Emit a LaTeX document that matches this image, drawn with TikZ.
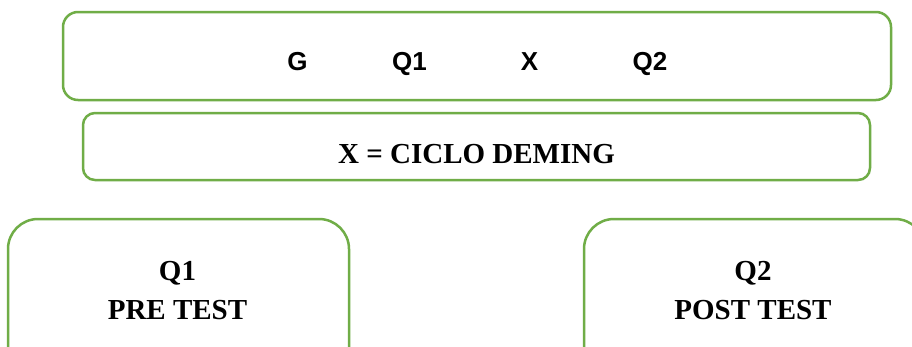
\documentclass[tikz,border=0pt]{standalone}
\usepackage{fontspec}
\setmainfont{Liberation Serif}
\newfontfamily\arialfont{Liberation Sans}
\definecolor{boxgreen}{RGB}{112,173,71}
\tikzset{
  gbox/.style={draw=boxgreen, line width=2.5pt, fill=white},
  toplabel/.style={anchor=base, inner sep=0pt, font=\arialfont\bfseries\fontsize{26}{30}\selectfont},
  serlabel/.style={anchor=base, inner sep=0pt, font=\bfseries\fontsize{29}{35}\selectfont},
}
\begin{document}
\begin{tikzpicture}[x=1pt,y=-1pt]
\useasboundingbox (0,0) rectangle (912,346);
\clip (0,0) rectangle (912,346);
\fill[white] (0,0) rectangle (912,346);
% top box
\draw[gbox, rounded corners=15pt] (63,12) rectangle (891,100);
\node[toplabel] (g) at (297.5,70) {G};
\node[toplabel] (q1t) at (409.5,70) {Q1};
\node[toplabel] (xt) at (529.5,70) {X};
\node[toplabel] (q2t) at (650,70) {Q2};
% second box
\draw[gbox, rounded corners=12pt] (83,113) rectangle (870,180);
\node[serlabel] (deming) at (476.5,163) {X = CICLO DEMING};
% bottom boxes
\draw[gbox, rounded corners=30pt] (8,219) rectangle (349,380);
\node[serlabel] (q1b) at (177.5,280) {Q1};
\node[serlabel] (pre) at (177.5,319) {PRE TEST};
\draw[gbox, rounded corners=30pt] (584,219) rectangle (925,380);
\node[serlabel] (q2b) at (753,280) {Q2};
\node[serlabel] (post) at (753,319) {POST TEST};
\end{tikzpicture}
\end{document}
